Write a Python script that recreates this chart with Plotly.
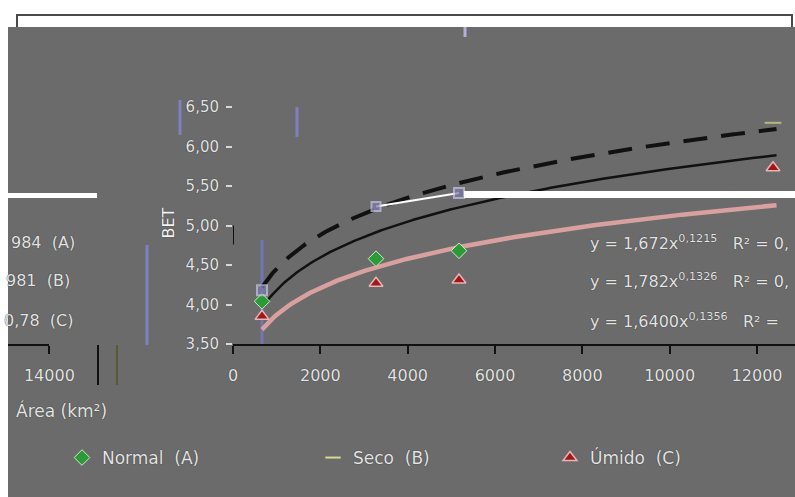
import numpy as np
import plotly.graph_objects as go

W, H = 795, 497

# ---- data -------------------------------------------------------------
area_normal = [664, 3275, 5175]
bet_normal = [4.04, 4.58, 4.68]

area_seco = [664, 3275, 5175, 12366]
bet_seco = [4.18, 5.24, 5.41, 6.30]

area_umido = [664, 3275, 5175, 12366]
bet_umido = [3.85, 4.27, 4.31, 5.73]

# power trend lines y = a * x^b
trend_normal = (1.672, 0.1215)
trend_seco = (1.782, 0.1326)
trend_umido = (1.640, 0.1356)
r2_labels = ["0,984", "0,981", "0,78"]
series_tags = ["(A)", "(B)", "(C)"]

x_ticks = [0, 2000, 4000, 6000, 8000, 10000, 12000]
y_ticks = [3.5, 4.0, 4.5, 5.0, 5.5, 6.0, 6.5]

# ---- helpers ----------------------------------------------------------
def px(xp):
    return xp / W

def py(yp):
    return 1 - yp / H

def fmt(v, nd):
    return f"{v:.{nd}f}".replace(".", ",")

PX_PER_UNIT = 0.04367
X0_PX = 233
x_max = (W - X0_PX) / PX_PER_UNIT
x_wrap0 = (8 + W - X0_PX) / PX_PER_UNIT

TXT = "#e4e4e4"
SHADOW = "0px 0px 1px #1a1a1a"
FONT = "DejaVu Sans"

fig = go.Figure()

xs = np.linspace(min(area_umido), max(area_umido) + 80, 300)

def trend(ab):
    a, b = ab
    return a * xs ** b

fig.add_trace(go.Scatter(x=xs, y=trend(trend_normal), mode="lines",
                         line=dict(color="#d9a0a0", width=4.5),
                         showlegend=False, hoverinfo="skip"))
fig.add_trace(go.Scatter(x=xs, y=trend(trend_umido), mode="lines",
                         line=dict(color="#111111", width=2.5),
                         showlegend=False, hoverinfo="skip"))
fig.add_trace(go.Scatter(x=xs, y=trend(trend_seco), mode="lines",
                         line=dict(color="#111111", width=4, dash="24px,14px"),
                         showlegend=False, hoverinfo="skip"))

# white link between the middle Seco samples
fig.add_trace(go.Scatter(x=area_seco[1:3], y=bet_seco[1:3], mode="lines",
                         line=dict(color="#ffffff", width=2),
                         showlegend=False, hoverinfo="skip"))

fig.add_trace(go.Scatter(x=area_normal, y=bet_normal, mode="markers",
                         name="Normal  (A)", legend="legend",
                         marker=dict(symbol="diamond", size=12, color="#2c9a36",
                                     line=dict(color="#c8ecc8", width=1))))
fig.add_trace(go.Scatter(x=area_seco, y=bet_seco, mode="markers",
                         showlegend=False,
                         marker=dict(symbol=["square", "square", "square", "line-ew"],
                                     size=[10, 9, 10, 12], color="#7c7cae",
                                     line=dict(color=["#c8c8e8", "#c8c8e8", "#c8c8e8", "#d8d890"],
                                               width=2))))
fig.add_trace(go.Scatter(x=[None], y=[None], mode="markers",
                         name="Seco  (B)", legend="legend2",
                         marker=dict(symbol="line-ew", size=11,
                                     line=dict(color="#d8d890", width=2))))
fig.add_trace(go.Scatter(x=area_umido, y=bet_umido, mode="markers",
                         name="Úmido  (C)", legend="legend3",
                         marker=dict(symbol="triangle-up", size=12, color="#a11616",
                                     line=dict(color="#e8b4b4", width=1.5))))
# wrapped tail of the x axis
fig.add_trace(go.Scatter(x=[None], y=[None], xaxis="x2", yaxis="y",
                         showlegend=False, hoverinfo="skip"))

shapes = []
# white strip with frame at the top
shapes.append(dict(type="rect", xref="paper", yref="paper", layer="below",
                   x0=px(17), x1=px(792), y0=py(30), y1=py(15),
                   fillcolor="#ffffff", line=dict(color="#4a4a4a", width=2)))
# gray canvas
shapes.append(dict(type="rect", xref="paper", yref="paper", layer="below",
                   x0=px(8), x1=1, y0=0, y1=py(27),
                   fillcolor="#6b6b6b", line=dict(width=0)))
# white bands
shapes.append(dict(type="rect", xref="paper", yref="paper", layer="below",
                   x0=px(8), x1=px(97), y0=py(198), y1=py(193),
                   fillcolor="#ffffff", line=dict(width=0)))
shapes.append(dict(type="rect", xref="paper", yref="paper", layer="above",
                   x0=px(464), x1=1, y0=py(198), y1=py(191),
                   fillcolor="#ffffff", line=dict(width=0)))
# stray vertical strokes
for (xx, ya, yb, col, wd) in [(147, 245, 345, "#8080c0", 3), (262, 240, 345, "#7474b4", 3),
                              (180, 100, 135, "#8080c0", 3), (297, 107, 137, "#8080c0", 3),
                              (465, 27, 37, "#b0b0e0", 3), (98, 345, 385, "#111111", 2),
                              (117, 345, 385, "#5a5a30", 2)]:
    shapes.append(dict(type="line", xref="paper", yref="paper", layer="below",
                       x0=px(xx), x1=px(xx), y0=py(ya), y1=py(yb),
                       line=dict(color=col, width=wd)))
# short y-axis stub near 5,00
shapes.append(dict(type="line", xref="x", yref="y", x0=0, x1=0, y0=4.76, y1=5.0,
                   line=dict(color="#111111", width=2)))

annotations = []
eq_y = [242, 280, 320]
eq_x = [588, 588, 588]
head_chars = [2, 2, 0]  # how much of the R² value fits before the right edge
for (a, b), r2, yy, xx, nh in zip([trend_normal, trend_seco, trend_umido], r2_labels,
                                  eq_y, eq_x, head_chars):
    nd = 4 if a == trend_umido[0] else 3
    txt = f"y = {fmt(a, nd)}x<sup>{fmt(b, 4)}</sup>   R² = {r2[:nh]}"
    annotations.append(dict(x=px(xx), y=py(yy), xref="paper", yref="paper",
                            xanchor="left", yanchor="middle", showarrow=False,
                            text=txt, font=dict(family=FONT, size=16, color=TXT,
                                                shadow=SHADOW)))
# the rest of each R² label, continued at the left edge
for r2, tag, yy, xr, nh in zip(r2_labels, series_tags, eq_y, [77, 72, 75], head_chars):
    annotations.append(dict(x=px(xr), y=py(yy), xref="paper", yref="paper",
                            xanchor="right", yanchor="middle", showarrow=False,
                            text=f"{r2[nh:]}  {tag}",
                            font=dict(family=FONT, size=16, color=TXT, shadow=SHADOW)))
annotations.append(dict(x=px(157), y=py(223), xref="paper", yref="paper",
                        showarrow=False, textangle=-90, text="BET",
                        font=dict(family=FONT, size=16, color="#f4f4f4", shadow=SHADOW)))
annotations.append(dict(x=px(14), y=py(410), xref="paper", yref="paper",
                        xanchor="left", yanchor="middle", showarrow=False,
                        text="Área (km²)",
                        font=dict(family=FONT, size=17, color=TXT, shadow=SHADOW)))

def legend_at(xp):
    return dict(x=px(xp), y=py(458), xanchor="left", yanchor="middle",
                orientation="h", bgcolor="rgba(0,0,0,0)", itemwidth=30,
                font=dict(family=FONT, size=17, color=TXT, shadow=SHADOW))

tickfont = dict(family=FONT, size=16, color=TXT, shadow=SHADOW)

fig.update_layout(
    width=W, height=H,
    margin=dict(l=0, r=0, t=0, b=0, pad=0, autoexpand=False),
    paper_bgcolor="#ffffff", plot_bgcolor="rgba(0,0,0,0)",
    separators=",.",
    shapes=shapes, annotations=annotations,
    legend=legend_at(62), legend2=legend_at(313), legend3=legend_at(550),
    xaxis=dict(domain=[px(X0_PX), 1], range=[0, x_max], tickvals=x_ticks,
               ticktext=[str(v) for v in x_ticks],
               showline=True, linecolor="#111111", linewidth=2,
               ticks="outside", ticklen=8, tickwidth=2, tickcolor="#111111",
               ticklabelstandoff=8, showgrid=False, zeroline=False,
               tickfont=tickfont, automargin=False),
    xaxis2=dict(domain=[px(8), px(8) + (14000 - x_wrap0) * PX_PER_UNIT / W],
                range=[x_wrap0, 14000], anchor="y", tickvals=[14000],
                ticktext=["14000"], showline=True, linecolor="#111111", linewidth=2,
                ticks="outside", ticklen=8, tickwidth=2, tickcolor="#111111",
                ticklabelstandoff=8, showgrid=False, zeroline=False,
                tickfont=tickfont, automargin=False),
    yaxis=dict(domain=[py(344), py(60)], range=[3.5, 3.5 + 284 / 79],
               tickvals=y_ticks, tickformat=".2f", showline=False,
               ticks="outside", ticklen=6, tickwidth=1.5, tickcolor="#d8d8d8",
               ticklabelstandoff=4, showgrid=False, zeroline=False,
               tickfont=dict(family=FONT, size=15, color=TXT, shadow=SHADOW),
               automargin=False),
    showlegend=True,
)

fig.write_html("out.html")
